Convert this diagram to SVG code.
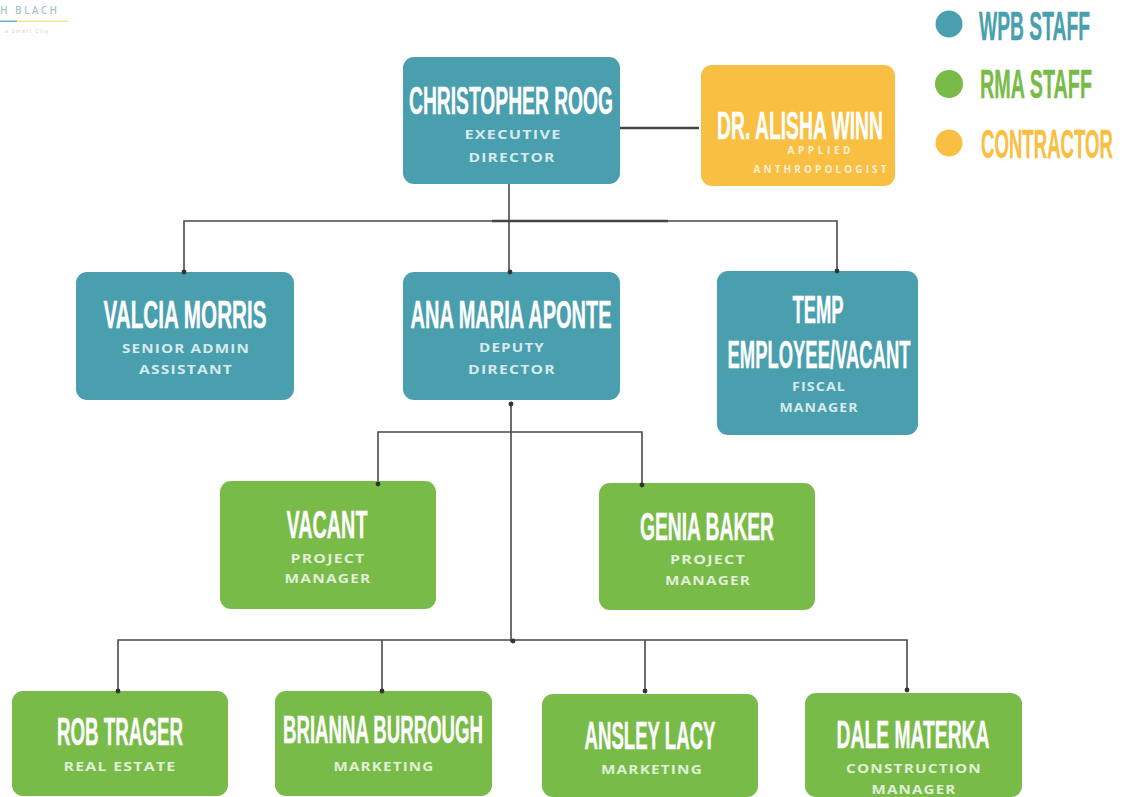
<svg xmlns="http://www.w3.org/2000/svg" width="1126" height="797" viewBox="0 0 1126 797">
<style>
.t{fill:#4a9fae}.g{fill:#79bb48}.y{fill:#f9bf42}
.n{font-family:"Liberation Sans",sans-serif;font-weight:700;fill:#fff;stroke:#fff;stroke-width:.4;text-anchor:middle;font-size:39px}
.s{font-family:"Open Sans","Liberation Sans",sans-serif;font-weight:700;fill:#fff;fill-opacity:.78;text-anchor:middle;font-size:13px;letter-spacing:1px}
.l{font-family:"Liberation Sans",sans-serif;font-weight:700;font-size:41px;stroke-width:.4}
.c{fill:none;stroke:#4a4a4a;stroke-width:1.6}
.h{fill:none;stroke:#444;stroke-width:2.6}
.d{fill:#333}
</style>
<rect width="1126" height="797" fill="#fff"/>
<g id="logo">
<text x="0" y="13.5" font-family="Open Sans, sans-serif" font-size="10" font-weight="600" textLength="57" fill="#8fb4c2" fill-opacity=".8">H BLACH</text>
<rect x="0" y="20.5" width="17" height="1.5" fill="#6fb0c2"/>
<rect x="17" y="20.5" width="51" height="1.5" fill="#f6e39a"/>
<text x="5" y="33" font-family="Open Sans, sans-serif" font-size="5" textLength="43" fill="#c8d0d4">a Smart City</text>
</g>
<g id="connectors">
<path class="h" d="M620 128H699"/>
<path class="c" d="M509 172V272"/>
<path class="c" d="M184 272V221H837V271"/>
<path class="h" d="M492 221H668"/>
<path class="c" d="M511 402V642"/>
<path class="c" d="M378 484V432H642V485"/>
<path class="c" d="M118 691V640H907V690"/>
<path class="c" d="M382 640V691M645 640V691"/>
</g>
<g id="legend">
<circle class="t" cx="949" cy="24" r="13.5"/><circle class="g" cx="949" cy="84" r="14"/><circle class="y" cx="949" cy="143" r="13.5"/>
<text class="l t" stroke="#4a9fae" transform="translate(979 40) scale(.5 1)" textLength="222" lengthAdjust="spacingAndGlyphs">WPB STAFF</text>
<text class="l g" stroke="#79bb48" transform="translate(980 98) scale(.5 1)" textLength="224" lengthAdjust="spacingAndGlyphs">RMA STAFF</text>
<text class="l y" stroke="#f9bf42" transform="translate(981 158) scale(.5 1)" textLength="264" lengthAdjust="spacingAndGlyphs">CONTRACTOR</text>
</g>
<g id="christopher-roog">
<rect class="t" x="403" y="57" width="217" height="127" rx="11"/>
<text class="n" transform="translate(511 114) scale(.5 1)" textLength="408" lengthAdjust="spacingAndGlyphs">CHRISTOPHER ROOG</text>
<text class="s" x="513" y="139" textLength="97" lengthAdjust="spacingAndGlyphs">EXECUTIVE</text><text class="s" x="512" y="162" textLength="87" lengthAdjust="spacingAndGlyphs">DIRECTOR</text>
</g>
<g id="alisha-winn">
<rect class="y" x="701" y="65" width="194" height="121" rx="11"/>
<text class="n" transform="translate(800 139) scale(.5 1)" textLength="332" lengthAdjust="spacingAndGlyphs">DR. ALISHA WINN</text>
<text class="s" x="820" y="154" textLength="65" style="font-size:10px;letter-spacing:2px">APPLIED</text>
<text class="s" x="821" y="173" textLength="135" style="font-size:10px;letter-spacing:2px">ANTHROPOLOGIST</text>
</g>
<g id="valcia-morris">
<rect class="t" x="76" y="272" width="218" height="128" rx="11"/>
<text class="n" transform="translate(185 328) scale(.5 1)" textLength="326" lengthAdjust="spacingAndGlyphs">VALCIA MORRIS</text>
<text class="s" x="186" y="353" textLength="128" lengthAdjust="spacingAndGlyphs">SENIOR ADMIN</text><text class="s" x="186" y="374" textLength="94" lengthAdjust="spacingAndGlyphs">ASSISTANT</text>
</g>
<g id="ana-maria-aponte">
<rect class="t" x="403" y="272" width="217" height="128" rx="11"/>
<text class="n" transform="translate(511 328) scale(.5 1)" textLength="402" lengthAdjust="spacingAndGlyphs">ANA MARIA APONTE</text>
<text class="s" x="512" y="352" textLength="66" lengthAdjust="spacingAndGlyphs">DEPUTY</text><text class="s" x="512" y="374" textLength="88" lengthAdjust="spacingAndGlyphs">DIRECTOR</text>
</g>
<g id="temp-employee">
<rect class="t" x="717" y="271" width="201" height="164" rx="11"/>
<text class="n" transform="translate(818 323) scale(.5 1)" textLength="102" lengthAdjust="spacingAndGlyphs">TEMP</text>
<text class="n" transform="translate(819 368) scale(.5 1)" textLength="366" lengthAdjust="spacingAndGlyphs">EMPLOYEE/VACANT</text>
<text class="s" x="819" y="391" textLength="54" lengthAdjust="spacingAndGlyphs">FISCAL</text><text class="s" x="819" y="412" textLength="79" lengthAdjust="spacingAndGlyphs">MANAGER</text>
</g>
<g id="vacant">
<rect class="g" x="220" y="481" width="216" height="128" rx="11"/>
<text class="n" transform="translate(327 538) scale(.5 1)" textLength="162" lengthAdjust="spacingAndGlyphs">VACANT</text>
<text class="s" x="328" y="563" textLength="75" lengthAdjust="spacingAndGlyphs">PROJECT</text><text class="s" x="328" y="583" textLength="87" lengthAdjust="spacingAndGlyphs">MANAGER</text>
</g>
<g id="genia-baker">
<rect class="g" x="599" y="483" width="216" height="127" rx="11"/>
<text class="n" transform="translate(707 540) scale(.5 1)" textLength="268" lengthAdjust="spacingAndGlyphs">GENIA BAKER</text>
<text class="s" x="708" y="564" textLength="76" lengthAdjust="spacingAndGlyphs">PROJECT</text><text class="s" x="708" y="585" textLength="86" lengthAdjust="spacingAndGlyphs">MANAGER</text>
</g>
<g id="rob-trager">
<rect class="g" x="12" y="691" width="216" height="105" rx="11"/>
<text class="n" transform="translate(120 745) scale(.5 1)" textLength="252" lengthAdjust="spacingAndGlyphs">ROB TRAGER</text>
<text class="s" x="120" y="771" textLength="113" lengthAdjust="spacingAndGlyphs">REAL ESTATE</text>
</g>
<g id="brianna-burrough">
<rect class="g" x="275" y="691" width="217" height="105" rx="11"/>
<text class="n" transform="translate(383 743) scale(.5 1)" textLength="400" lengthAdjust="spacingAndGlyphs">BRIANNA BURROUGH</text>
<text class="s" x="384" y="771" textLength="101" lengthAdjust="spacingAndGlyphs">MARKETING</text>
</g>
<g id="ansley-lacy">
<rect class="g" x="542" y="694" width="216" height="103" rx="11"/>
<text class="n" transform="translate(650 749) scale(.5 1)" textLength="262" lengthAdjust="spacingAndGlyphs">ANSLEY LACY</text>
<text class="s" x="652" y="774" textLength="102" lengthAdjust="spacingAndGlyphs">MARKETING</text>
</g>
<g id="dale-materka">
<rect class="g" x="805" y="693" width="217" height="104" rx="11"/>
<text class="n" transform="translate(913 748) scale(.5 1)" textLength="306" lengthAdjust="spacingAndGlyphs">DALE MATERKA</text>
<text class="s" x="914" y="773" textLength="136" lengthAdjust="spacingAndGlyphs">CONSTRUCTION</text><text class="s" x="914" y="794" textLength="85" lengthAdjust="spacingAndGlyphs">MANAGER</text>
</g>
<g id="connector-dots">
<circle class="d" cx="510" cy="272" r="2.4"/><circle class="d" cx="837" cy="271" r="2.4"/><circle class="d" cx="184" cy="272" r="2.4"/>
<circle class="d" cx="511" cy="404" r="2.4"/><circle class="d" cx="378" cy="484" r="2.4"/><circle class="d" cx="642" cy="485" r="2.4"/>
<circle class="d" cx="513" cy="641" r="2.4"/><circle class="d" cx="118" cy="691" r="2.4"/><circle class="d" cx="382" cy="691" r="2.4"/><circle class="d" cx="645" cy="691" r="2.4"/><circle class="d" cx="907" cy="690" r="2.4"/>
</g>
</svg>
